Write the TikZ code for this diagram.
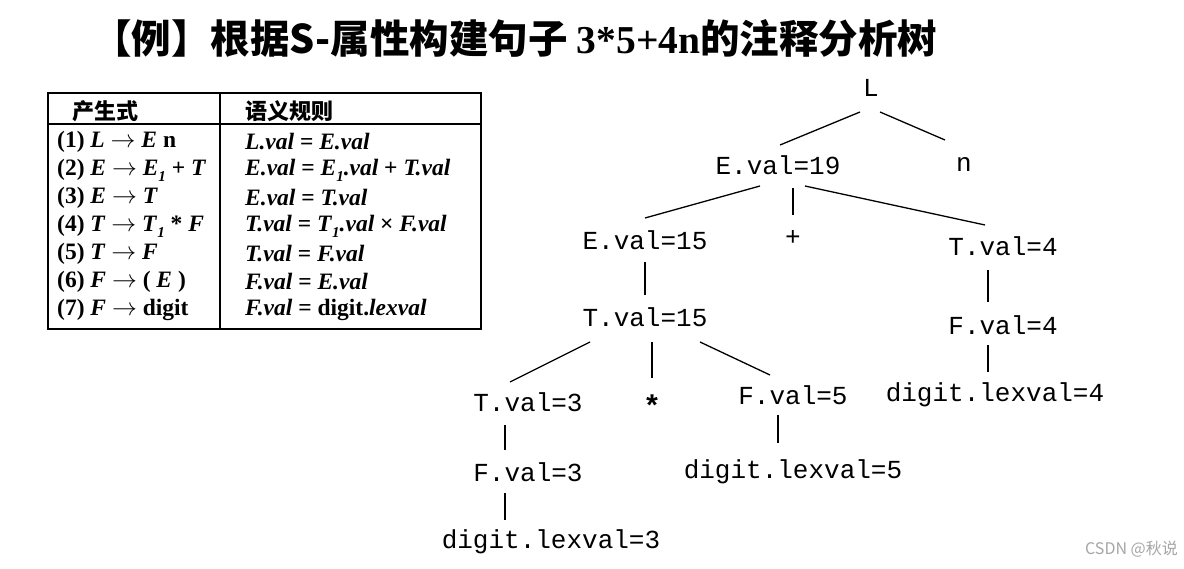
\documentclass[tikz,border=0pt]{standalone}
\usepackage{fontspec}
\setmainfont{Liberation Serif}
\setmonofont{Liberation Mono}
\newfontfamily\cjk{Noto Sans CJK SC}
\newcommand{\sbi}[1]{\raisebox{-0.25em}{\fontsize{15}{16}\selectfont\textit{#1}}}
\begin{document}
\begin{tikzpicture}[x=1pt,y=-1pt,
  tn/.style={font=\fontsize{26}{28}\selectfont\ttfamily, inner sep=0pt},
  ed/.style={line width=1.3pt},
  rowl/.style={anchor=west,font=\fontsize{23.5}{25}\selectfont\bfseries, inner sep=0pt},
]
\useasboundingbox (0,0) rectangle (1184,569);
\fill[white] (0,0) rectangle (1184,569);
\node[anchor=west,inner sep=0pt] (title) at (92,38) {\fontsize{39.5}{42}\selectfont\cjk\bfseries 【例】根据S-属性构建句子 {\rmfamily\bfseries 3*5+4n}的注释分析树};
% table
\draw[line width=1.4pt] (48,93) rectangle (481,329);
\draw[line width=1.4pt] (48,124) -- (481,124);
\draw[line width=1.4pt] (220,93) -- (220,329);
\node[anchor=west,inner sep=0pt] (h1) at (72,111) {\fontsize{22}{24}\selectfont\cjk\bfseries 产生式};
\node[anchor=west,inner sep=0pt] (h2) at (245,111) {\fontsize{22}{24}\selectfont\cjk\bfseries 语义规则};
\node[rowl] (p1) at (57,142) {(1) \textit{L} $\rightarrow$ \textit{E} n};
\node[rowl] (p2) at (57,170) {(2) \textit{E} $\rightarrow$ \textit{E}\sbi{1} + \textit{T}};
\node[rowl] (p3) at (57,198) {(3) \textit{E} $\rightarrow$ \textit{T}};
\node[rowl] (p4) at (57,226) {(4) \textit{T} $\rightarrow$ \textit{T}\sbi{1} * \textit{F}};
\node[rowl] (p5) at (57,254) {(5) \textit{T} $\rightarrow$ \textit{F}};
\node[rowl] (p6) at (57,282) {(6) \textit{F} $\rightarrow$ ( \textit{E} )};
\node[rowl] (p7) at (57,310) {(7) \textit{F} $\rightarrow$ digit};
\node[rowl] (s1) at (245,142) {\textit{L.val} = \textit{E.val}};
\node[rowl] (s2) at (245,170) {\textit{E.val} = \textit{E}\sbi{1}\textit{.val} + \textit{T.val}};
\node[rowl] (s3) at (245,198) {\textit{E.val} = \textit{T.val}};
\node[rowl] (s4) at (245,226) {\textit{T.val} = \textit{T}\sbi{1}\textit{.val} × \textit{F.val}};
\node[rowl] (s5) at (245,254) {\textit{T.val} = \textit{F.val}};
\node[rowl] (s6) at (245,282) {\textit{F.val} = \textit{E.val}};
\node[rowl] (s7) at (245,310) {\textit{F.val} = digit.\textit{lexval}};
% tree
\node[tn] (L) at (871,88) {L};
\node[tn] (E19) at (778,165) {E.val=19};
\node[tn] (n) at (964,165) {n};
\node[tn] (E15) at (645,240) {E.val=15};
\node[tn] (plus) at (793,238) {+};
\node[tn] (T4) at (1003,246) {T.val=4};
\node[tn] (T15) at (645,317) {T.val=15};
\node[tn] (F4) at (1003,325) {F.val=4};
\node[tn] (T3) at (528,402) {T.val=3};
\node[tn,font=\fontsize{30}{30}\selectfont\bfseries\ttfamily] (star) at (652,406) {*};
\node[tn] (F5) at (793,395) {F.val=5};
\node[tn] (d4) at (995,395) {digit.lexval=4};
\node[tn] (F3) at (528,472) {F.val=3};
\node[tn] (d5) at (793,472) {digit.lexval=5};
\node[tn] (d3) at (551,542) {digit.lexval=3};
\coordinate (a1) at (860,112); \coordinate (a2) at (780,145);
\coordinate (b1) at (880,112); \coordinate (b2) at (945,140);
\coordinate (c1) at (760,186); \coordinate (c2) at (645,218);
\coordinate (e1) at (793,188); \coordinate (e2) at (793,215);
\coordinate (f1) at (805,186); \coordinate (f2) at (985,225);
\coordinate (g1) at (645,262); \coordinate (g2) at (645,295);
\coordinate (h1) at (988,270); \coordinate (h2) at (988,302);
\coordinate (i1) at (988,345); \coordinate (i2) at (988,372);
\coordinate (j1) at (590,342); \coordinate (j2) at (510,382);
\coordinate (k1) at (652,342); \coordinate (k2) at (652,378);
\coordinate (l1) at (700,342); \coordinate (l2) at (770,375);
\coordinate (m1) at (505,425); \coordinate (m2) at (505,450);
\coordinate (o1) at (505,493); \coordinate (o2) at (505,520);
\coordinate (q1) at (778,415); \coordinate (q2) at (778,443);
\draw[ed] (a1) -- (a2); \draw[ed] (b1) -- (b2);
\draw[ed] (c1) -- (c2); \draw[ed] (e1) -- (e2); \draw[ed] (f1) -- (f2);
\draw[ed] (g1) -- (g2); \draw[ed] (h1) -- (h2); \draw[ed] (i1) -- (i2);
\draw[ed] (j1) -- (j2); \draw[ed] (k1) -- (k2); \draw[ed] (l1) -- (l2);
\draw[ed] (m1) -- (m2); \draw[ed] (o1) -- (o2); \draw[ed] (q1) -- (q2);
\node[anchor=east,text=gray!70,inner sep=0pt] (wm) at (1178,549) {\fontsize{16}{18}\selectfont\cjk CSDN @秋说};
\end{tikzpicture}
\end{document}
